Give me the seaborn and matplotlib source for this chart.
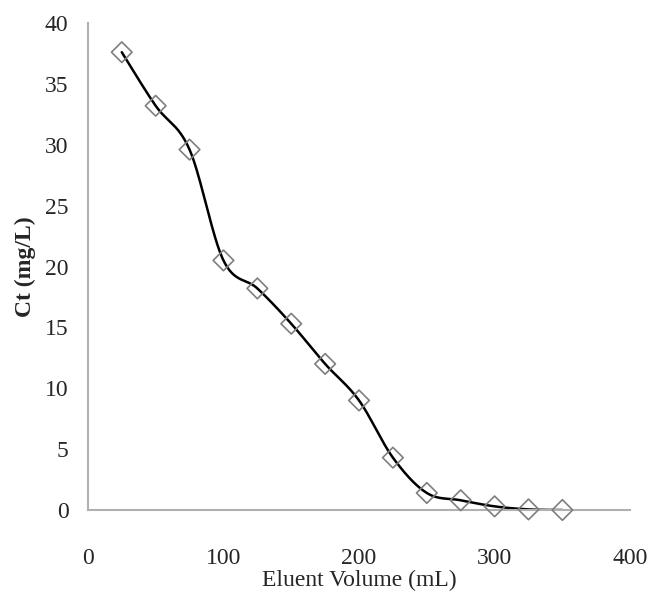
import numpy as np
import pandas as pd
import matplotlib
matplotlib.use("Agg")
import matplotlib.pyplot as plt
import seaborn as sns

# Data
volume = [25, 50, 75, 100, 125, 150, 175, 200, 225, 250, 275, 300, 325, 350]
ct = [37.6, 33.2, 29.6, 20.5, 18.2, 15.3, 12.0, 9.0, 4.3, 1.4, 0.8, 0.3, 0.05, 0.0]

x_ticks = [0, 100, 200, 300, 400]
y_ticks = [0, 5, 10, 15, 20, 25, 30, 35, 40]


def smooth_curve(x, y, n=30):
    # Excel-like smoothed line: cubic Bezier segments with Catmull-Rom controls
    x = np.asarray(x, float)
    y = np.asarray(y, float)
    pts = np.column_stack([x, y])
    out = []
    for i in range(len(pts) - 1):
        p0 = pts[i - 1] if i > 0 else pts[i]
        p1 = pts[i]
        p2 = pts[i + 1]
        p3 = pts[i + 2] if i + 2 < len(pts) else pts[i + 1]
        c1 = p1 + (p2 - p0) / 6
        c2 = p2 - (p3 - p1) / 6
        t = np.linspace(0, 1, n)[:, None]
        seg = ((1 - t) ** 3) * p1 + 3 * ((1 - t) ** 2) * t * c1 + 3 * (1 - t) * t ** 2 * c2 + t ** 3 * p2
        out.append(seg if i == 0 else seg[1:])
    out = np.vstack(out)
    return out[:, 0], out[:, 1]


df = pd.DataFrame({"volume": volume, "ct": ct})
sx, sy = smooth_curve(volume, ct)
curve = pd.DataFrame({"volume": sx, "ct": sy})

sns.set_style("white")
plt.rcParams["font.family"] = ["Liberation Serif", "DejaVu Serif"]

fig = plt.figure(figsize=(6.51, 6.05), dpi=100)
ax = fig.add_axes([0.135, 0.157, 0.833, 0.805])

sns.lineplot(data=curve, x="volume", y="ct", color="black", linewidth=1.8,
             sort=False, estimator=None, ax=ax, zorder=2)
sns.scatterplot(data=df, x="volume", y="ct", marker="D", s=110,
                facecolor="none", edgecolor="#7f7f7f", linewidth=1.2, ax=ax,
                zorder=3, clip_on=False)

ax.set_xlim(0, 400)
ax.set_ylim(0, 40)
ax.set_xticks(x_ticks)
ax.set_yticks(y_ticks)
ax.tick_params(axis="both", labelsize=17, length=5, color="#b0b0b0", direction="out")
ax.tick_params(axis="x", pad=22)
ax.tick_params(axis="y", pad=9)

for side in ["top", "right"]:
    ax.spines[side].set_visible(False)
for side in ["left", "bottom"]:
    ax.spines[side].set_color("#b0b0b0")
    ax.spines[side].set_linewidth(1.5)

ax.set_xlabel("Eluent Volume (mL)", fontsize=17, labelpad=1)
ax.set_ylabel("Ct (mg/L)", fontsize=17, fontweight="bold", labelpad=6)

fig.savefig("out.png", dpi=100)
